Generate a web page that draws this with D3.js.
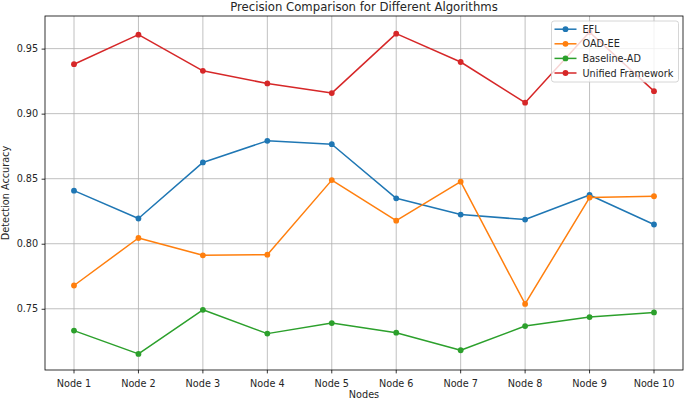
<!DOCTYPE html>
<html>
<head>
<meta charset="utf-8">
<script src="https://cdn.jsdelivr.net/npm/d3@7"></script>
<style>
  html, body { margin: 0; padding: 0; background: #ffffff; }
  svg { display: block; font-family: "DejaVu Sans", sans-serif; }
</style>
</head>
<body>
<svg id="chart" width="685" height="401"></svg>
<script>
const categories = ["Node 1","Node 2","Node 3","Node 4","Node 5","Node 6","Node 7","Node 8","Node 9","Node 10"];
const efl      = [0.8408, 0.8194, 0.8625, 0.8791, 0.8765, 0.8349, 0.8224, 0.8186, 0.8375, 0.8148];
const oadEE    = [0.7679, 0.8044, 0.7911, 0.7916, 0.8489, 0.8177, 0.8477, 0.7537, 0.8355, 0.8365];
const baseline = [0.7332, 0.7153, 0.7492, 0.7309, 0.7390, 0.7316, 0.7181, 0.7367, 0.7436, 0.7472];
const unified  = [0.9380, 0.9607, 0.9329, 0.9232, 0.9158, 0.9615, 0.9397, 0.9084, 0.9627, 0.9173];
const seriesNames = ["EFL", "OAD-EE", "Baseline-AD", "Unified Framework"];
const seriesColors = ["#1f77b4", "#ff7f0e", "#2ca02c", "#d62728"];
const yTicks = [0.75, 0.80, 0.85, 0.90, 0.95];
const titleText = "Precision Comparison for Different Algorithms";
const xLabel = "Nodes";
const yLabel = "Detection Accuracy";

const series = [efl, oadEE, baseline, unified].map((vals, i) => ({
  name: seriesNames[i], color: seriesColors[i], values: vals
}));

const svg = d3.select("#chart");
const L = 45, R = 683, T = 16, B = 370;

const x = d3.scalePoint().domain(categories).range([L, R]).padding(0);
// matplotlib-like 5% margins on x
const step = (R - L) / (categories.length - 1 + 0.9);
const xPos = d => L + step * 0.45 + categories.indexOf(d) * step;

const allVals = series.flatMap(s => s.values);
const [mn, mx] = d3.extent(allVals);
const pad = (mx - mn) * 0.05;
const y = d3.scaleLinear().domain([mn - pad, mx + pad]).range([B, T]);

// grid
const grid = svg.append("g");
categories.forEach(c => {
  grid.append("line").attr("x1", xPos(c)).attr("x2", xPos(c)).attr("y1", T).attr("y2", B)
    .attr("stroke", "#b0b0b0").attr("stroke-width", 0.8);
});
yTicks.forEach(t => {
  grid.append("line").attr("x1", L).attr("x2", R).attr("y1", y(t)).attr("y2", y(t))
    .attr("stroke", "#b0b0b0").attr("stroke-width", 0.8);
});

// axes
const xAxisScale = d3.scaleOrdinal().domain(categories).range(categories.map(xPos));
const xAxis = svg.append("g").attr("transform", `translate(0,${B})`);
categories.forEach(c => {
  xAxis.append("line").attr("x1", xPos(c)).attr("x2", xPos(c)).attr("y1", 0).attr("y2", 3.4)
    .attr("stroke", "#000").attr("stroke-width", 0.8);
  xAxis.append("text").attr("x", xPos(c)).attr("y", 16.5).attr("text-anchor", "middle")
    .attr("font-size", "9.7px").attr("fill", "#262626").text(c);
});
const yAxis = svg.append("g").attr("transform", `translate(${L},0)`)
  .call(d3.axisLeft(y).tickValues(yTicks).tickFormat(d3.format(".2f")).tickSize(3.4).tickPadding(3.4));
yAxis.select(".domain").remove();
yAxis.selectAll("line").attr("stroke", "#000").attr("stroke-width", 0.8);
yAxis.selectAll("text").attr("font-size", "9.7px").attr("fill", "#262626")
  .attr("font-family", "DejaVu Sans, sans-serif");

// lines
const line = d3.line().x((d, i) => xPos(categories[i])).y(d => y(d));
series.forEach(s => {
  const g = svg.append("g");
  g.append("path").attr("d", line(s.values)).attr("fill", "none")
    .attr("stroke", s.color).attr("stroke-width", 1.5).attr("stroke-linejoin", "round");
  g.selectAll("circle").data(s.values).join("circle")
    .attr("cx", (d, i) => xPos(categories[i])).attr("cy", d => y(d)).attr("r", 2.9)
    .attr("fill", s.color);
});

// spines
svg.append("rect").attr("x", L).attr("y", T).attr("width", R - L).attr("height", B - T)
  .attr("fill", "none").attr("stroke", "#000").attr("stroke-width", 0.8);

// title & labels
svg.append("text").attr("x", (L + R) / 2).attr("y", 10.5).attr("text-anchor", "middle")
  .attr("font-size", "11.7px").attr("fill", "#262626").text(titleText);
svg.append("text").attr("x", (L + R) / 2).attr("y", 398).attr("text-anchor", "middle")
  .attr("font-size", "9.7px").attr("fill", "#262626").text(xLabel);
svg.append("text").attr("transform", `translate(9,${(T + B) / 2}) rotate(-90)`)
  .attr("text-anchor", "middle").attr("font-size", "9.7px").attr("fill", "#262626").text(yLabel);

// legend
const lg = svg.append("g");
lg.append("rect").attr("x", 551.5).attr("y", 21).attr("width", 127).attr("height", 61)
  .attr("rx", 2.5).attr("fill", "#ffffff").attr("fill-opacity", 0.8)
  .attr("stroke", "#cccccc").attr("stroke-width", 0.8);
series.forEach((s, i) => {
  const yy = 29.2 + i * 14.6;
  lg.append("line").attr("x1", 554.5).attr("x2", 576.5).attr("y1", yy).attr("y2", yy)
    .attr("stroke", s.color).attr("stroke-width", 1.5);
  lg.append("circle").attr("cx", 565.5).attr("cy", yy).attr("r", 2.9).attr("fill", s.color);
  lg.append("text").attr("x", 582.5).attr("y", yy + 3.5).attr("font-size", "9.7px")
    .attr("fill", "#262626").text(s.name);
});
</script>
</body>
</html>
